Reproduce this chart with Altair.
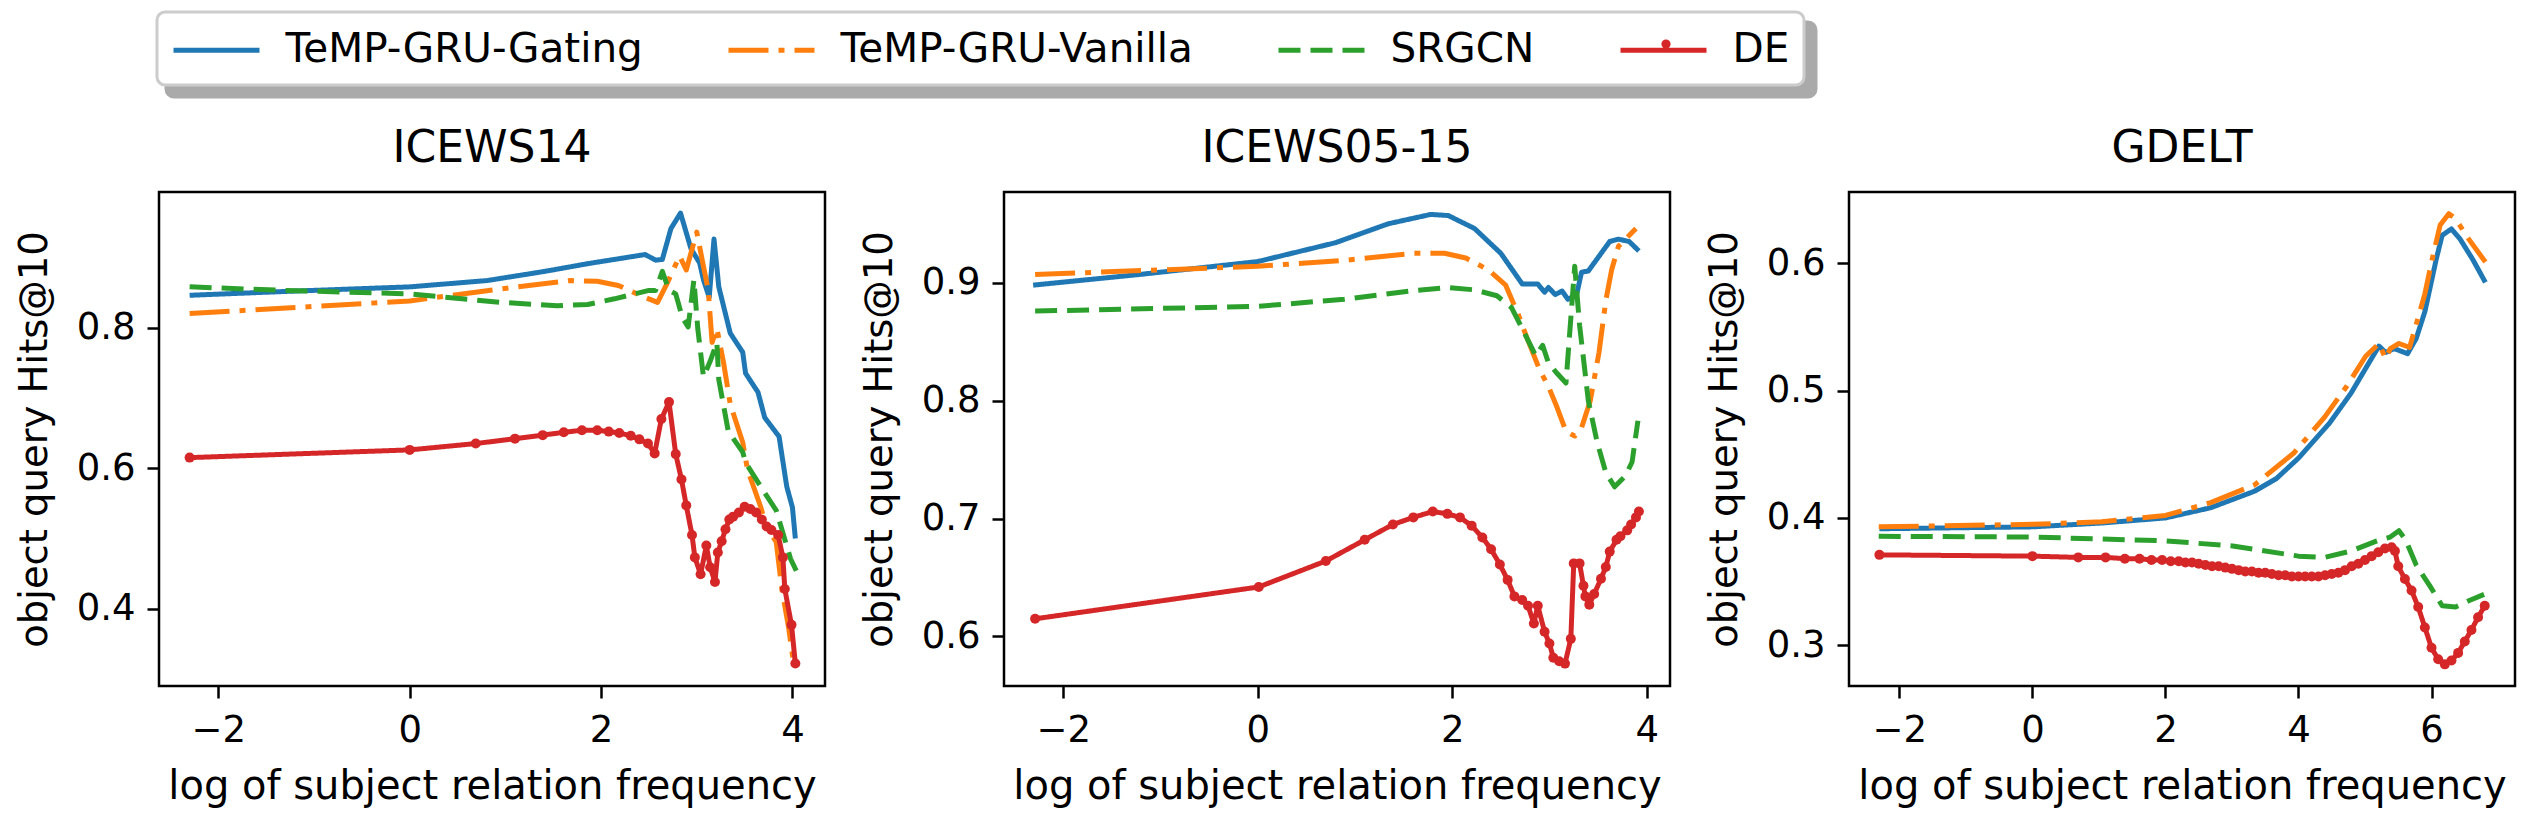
import altair as alt
import pandas as pd

SERIES = ["TeMP-GRU-Gating", "TeMP-GRU-Vanilla", "SRGCN", "DE"]
COLORS = ["#1f77b4", "#ff7f0e", "#2ca02c", "#d62728"]
DASHES = [[1, 0], [40, 10, 6, 10], [22, 10], [1, 0]]

TITLES = ["ICEWS14", "ICEWS05-15", "GDELT"]
XTITLE = "log of subject relation frequency"
YTITLE = "object query Hits@10"

# ---------------- ICEWS14 ----------------
I14_GATING_X = [-2.30, -1.20, 0.00, 0.81, 1.41, 1.86, 2.46, 2.57, 2.64, 2.73, 2.83, 2.94, 3.03, 3.07, 3.13, 3.18, 3.23, 3.35, 3.48, 3.51, 3.64, 3.71, 3.86, 3.94, 4.00, 4.03]
I14_GATING_Y = [0.846, 0.852, 0.858, 0.867, 0.880, 0.891, 0.904, 0.896, 0.897, 0.941, 0.963, 0.912, 0.892, 0.868, 0.843, 0.926, 0.858, 0.792, 0.765, 0.735, 0.708, 0.672, 0.645, 0.574, 0.544, 0.500]
I14_VANILLA_X = [-2.30, 0.00, 0.95, 1.68, 1.96, 2.18, 2.46, 2.59, 2.69, 2.82, 2.89, 3.00, 3.07, 3.12, 3.16, 3.21, 3.28, 3.35, 3.48, 3.53, 3.67, 3.73, 3.83, 3.89, 3.96, 4.01]
I14_VANILLA_Y = [0.820, 0.838, 0.855, 0.867, 0.866, 0.860, 0.843, 0.836, 0.863, 0.902, 0.882, 0.936, 0.887, 0.853, 0.779, 0.799, 0.750, 0.691, 0.637, 0.598, 0.544, 0.515, 0.495, 0.427, 0.373, 0.324]
I14_SRGCN_X = [-2.30, -1.33, 0.00, 0.95, 1.54, 1.86, 2.14, 2.50, 2.57, 2.64, 2.71, 2.78, 2.85, 2.91, 2.97, 3.01, 3.07, 3.14, 3.21, 3.23, 3.33, 3.48, 3.51, 3.69, 3.83, 3.98, 4.04]
I14_SRGCN_Y = [0.858, 0.853, 0.848, 0.836, 0.831, 0.833, 0.841, 0.853, 0.853, 0.880, 0.853, 0.848, 0.814, 0.801, 0.868, 0.799, 0.730, 0.752, 0.779, 0.726, 0.652, 0.623, 0.608, 0.569, 0.540, 0.471, 0.454]
I14_DE_X = [-2.30, 0.00, 0.69, 1.10, 1.39, 1.61, 1.80, 1.96, 2.08, 2.19, 2.31, 2.40, 2.49, 2.56, 2.63, 2.71, 2.78, 2.84, 2.89, 2.95, 2.98, 3.04, 3.10, 3.14, 3.19, 3.22, 3.26, 3.30, 3.34, 3.38, 3.44, 3.50, 3.56, 3.62, 3.68, 3.73, 3.78, 3.85, 3.90, 3.92, 3.99, 4.03]
I14_DE_Y = [0.615, 0.626, 0.635, 0.642, 0.647, 0.651, 0.654, 0.654, 0.652, 0.650, 0.646, 0.641, 0.635, 0.621, 0.670, 0.694, 0.620, 0.584, 0.547, 0.505, 0.473, 0.449, 0.490, 0.459, 0.438, 0.480, 0.496, 0.513, 0.527, 0.531, 0.537, 0.545, 0.542, 0.537, 0.527, 0.517, 0.512, 0.505, 0.473, 0.428, 0.377, 0.322]

# ---------------- ICEWS05-15 ----------------
I0515_GATING_X = [-2.31, -1.22, 0.00, 0.80, 1.34, 1.78, 1.96, 2.23, 2.50, 2.72, 2.88, 2.95, 2.99, 3.06, 3.13, 3.19, 3.28, 3.33, 3.40, 3.62, 3.71, 3.82, 3.92]
I0515_GATING_Y = [0.898, 0.907, 0.918, 0.934, 0.950, 0.958, 0.957, 0.946, 0.925, 0.899, 0.899, 0.892, 0.896, 0.890, 0.893, 0.886, 0.890, 0.909, 0.910, 0.935, 0.937, 0.935, 0.927]
I0515_VANILLA_X = [-2.29, 0.00, 0.89, 1.60, 1.92, 2.14, 2.37, 2.55, 2.68, 2.77, 2.90, 2.99, 3.08, 3.17, 3.26, 3.33, 3.42, 3.51, 3.58, 3.64, 3.71, 3.89]
I0515_VANILLA_Y = [0.907, 0.914, 0.919, 0.925, 0.925, 0.921, 0.911, 0.898, 0.873, 0.853, 0.826, 0.812, 0.794, 0.774, 0.770, 0.777, 0.800, 0.841, 0.885, 0.911, 0.931, 0.946]
I0515_SRGCN_X = [-2.29, 0.00, 0.89, 1.56, 1.96, 2.23, 2.46, 2.61, 2.72, 2.86, 2.93, 2.99, 3.08, 3.17, 3.26, 3.31, 3.40, 3.49, 3.58, 3.67, 3.78, 3.85, 3.91]
I0515_SRGCN_Y = [0.876, 0.880, 0.886, 0.893, 0.896, 0.894, 0.889, 0.879, 0.861, 0.838, 0.847, 0.832, 0.823, 0.815, 0.914, 0.864, 0.800, 0.765, 0.739, 0.727, 0.736, 0.748, 0.783]
I0515_DE_X = [-2.29, 0.01, 0.70, 1.10, 1.39, 1.60, 1.80, 1.95, 2.08, 2.20, 2.31, 2.40, 2.49, 2.57, 2.64, 2.72, 2.78, 2.84, 2.88, 2.95, 3.00, 3.04, 3.10, 3.16, 3.22, 3.25, 3.31, 3.35, 3.37, 3.41, 3.46, 3.53, 3.58, 3.62, 3.69, 3.73, 3.80, 3.84, 3.89, 3.92]
I0515_DE_Y = [0.615, 0.642, 0.664, 0.682, 0.695, 0.701, 0.706, 0.704, 0.701, 0.694, 0.684, 0.674, 0.661, 0.648, 0.634, 0.631, 0.626, 0.611, 0.626, 0.604, 0.594, 0.582, 0.579, 0.577, 0.598, 0.662, 0.662, 0.643, 0.634, 0.627, 0.636, 0.649, 0.659, 0.672, 0.682, 0.685, 0.690, 0.695, 0.701, 0.706]

# ---------------- GDELT ----------------
GD_GATING_X = [-2.30, 0.00, 1.04, 2.00, 2.68, 3.34, 3.67, 4.00, 4.46, 4.79, 5.05, 5.21, 5.31, 5.44, 5.64, 5.77, 5.90, 6.07, 6.16, 6.30, 6.43, 6.62, 6.81]
GD_GATING_Y = [0.3915, 0.393, 0.396, 0.400, 0.408, 0.421, 0.431, 0.447, 0.474, 0.498, 0.521, 0.535, 0.530, 0.533, 0.529, 0.541, 0.562, 0.603, 0.622, 0.627, 0.619, 0.603, 0.585]
GD_VANILLA_X = [-2.31, 0.00, 1.04, 2.00, 2.68, 3.34, 3.93, 4.39, 4.72, 5.01, 5.21, 5.31, 5.38, 5.51, 5.67, 5.77, 5.90, 6.03, 6.13, 6.26, 6.36, 6.56, 6.81]
GD_VANILLA_Y = [0.393, 0.395, 0.397, 0.402, 0.412, 0.426, 0.451, 0.479, 0.503, 0.527, 0.537, 0.525, 0.533, 0.537, 0.534, 0.552, 0.576, 0.608, 0.630, 0.639, 0.635, 0.619, 0.601]
GD_SRGCN_X = [-2.31, 0.00, 2.00, 3.01, 4.00, 4.39, 4.79, 5.18, 5.38, 5.51, 5.61, 5.77, 5.97, 6.16, 6.36, 6.56, 6.79]
GD_SRGCN_Y = [0.3856, 0.385, 0.382, 0.378, 0.370, 0.369, 0.374, 0.382, 0.385, 0.390, 0.383, 0.363, 0.347, 0.331, 0.330, 0.335, 0.340]
GD_DE_X = [-2.30, 0.00, 0.69, 1.10, 1.39, 1.61, 1.79, 1.95, 2.08, 2.20, 2.30, 2.40, 2.50, 2.60, 2.70, 2.80, 2.90, 3.00, 3.10, 3.20, 3.30, 3.40, 3.50, 3.60, 3.70, 3.80, 3.90, 4.00, 4.10, 4.20, 4.30, 4.40, 4.50, 4.60, 4.70, 4.80, 4.90, 5.00, 5.10, 5.20, 5.30, 5.40, 5.45, 5.50, 5.60, 5.70, 5.80, 5.90, 6.00, 6.10, 6.20, 6.30, 6.40, 6.50, 6.60, 6.70, 6.80]
GD_DE_Y = [0.371, 0.370, 0.369, 0.369, 0.368, 0.368, 0.367, 0.367, 0.366, 0.366, 0.365, 0.365, 0.364, 0.363, 0.362, 0.362, 0.361, 0.360, 0.359, 0.358, 0.358, 0.357, 0.357, 0.356, 0.355, 0.355, 0.354, 0.354, 0.354, 0.354, 0.354, 0.355, 0.356, 0.357, 0.359, 0.362, 0.364, 0.367, 0.370, 0.373, 0.376, 0.377, 0.374, 0.362, 0.352, 0.343, 0.330, 0.314, 0.298, 0.289, 0.285, 0.288, 0.294, 0.303, 0.312, 0.322, 0.331]

DATA = {
    "ICEWS14": [(I14_GATING_X, I14_GATING_Y), (I14_VANILLA_X, I14_VANILLA_Y), (I14_SRGCN_X, I14_SRGCN_Y), (I14_DE_X, I14_DE_Y)],
    "ICEWS05-15": [(I0515_GATING_X, I0515_GATING_Y), (I0515_VANILLA_X, I0515_VANILLA_Y), (I0515_SRGCN_X, I0515_SRGCN_Y), (I0515_DE_X, I0515_DE_Y)],
    "GDELT": [(GD_GATING_X, GD_GATING_Y), (GD_VANILLA_X, GD_VANILLA_Y), (GD_SRGCN_X, GD_SRGCN_Y), (GD_DE_X, GD_DE_Y)],
}

X_DOMAINS = {"ICEWS14": [-2.62, 4.34], "ICEWS05-15": [-2.61, 4.24], "GDELT": [-2.757, 7.255]}
Y_DOMAINS = {"ICEWS14": [0.290, 0.993], "ICEWS05-15": [0.558, 0.977], "GDELT": [0.268, 0.656]}
X_TICKS = {"ICEWS14": [-2, 0, 2, 4], "ICEWS05-15": [-2, 0, 2, 4], "GDELT": [-2, 0, 2, 4, 6]}
Y_TICKS = {"ICEWS14": [0.4, 0.6, 0.8], "ICEWS05-15": [0.6, 0.7, 0.8, 0.9], "GDELT": [0.3, 0.4, 0.5, 0.6]}

rows = []
for ds, series_list in DATA.items():
    for name, (xs, ys) in zip(SERIES, series_list):
        for i, (xv, yv) in enumerate(zip(xs, ys)):
            rows.append({"dataset": ds, "series": name, "shadow": name, "x": xv, "y": yv, "idx": i})
df = pd.DataFrame(rows)

FONT = "DejaVu Sans"
LEG_X, LEG_Y = -2, -180
LW = 5

main_legend = alt.Legend(
    title=None, orient="none", direction="horizontal", legendX=LEG_X, legendY=LEG_Y,
    symbolType="M-2,0L2,0", symbolSize=1849, symbolOffset=21.5, symbolStrokeWidth=LW,
    labelFont=FONT, labelFontSize=40.5, labelLimit=1000, labelOffset=45, labelColor="black",
    columnPadding=75, padding=14, cornerRadius=8,
    fillColor="white", strokeColor="#cccccc", zindex=2,
)
# single-entry legend used only as the drop shadow box behind the main legend
shadow_legend = alt.Legend(
    title=None, orient="none", direction="horizontal", legendX=LEG_X + 9, legendY=LEG_Y + 10,
    symbolType="square", symbolSize=1849, symbolOpacity=0,
    labelFontSize=1, labelOpacity=0, labelOffset=1575, labelLimit=1000,
    padding=14, cornerRadius=8,
    fillColor="#aaaaaa", strokeColor="#aaaaaa", zindex=1,
)
dot_legend = alt.Legend(
    title=None, orient="none", direction="horizontal", legendX=1502, legendY=-153,
    symbolType="circle", symbolSize=85, symbolFillColor="#d62728", symbolStrokeColor="#d62728",
    symbolStrokeWidth=0, symbolOpacity=1, labelOpacity=0, labelFontSize=1, labelOffset=0,
    padding=0, zindex=3,
)

color_scale = alt.Scale(domain=SERIES, range=COLORS)
dash_scale = alt.Scale(domain=SERIES, range=DASHES)


def panel(ds, first):
    d = df[df["dataset"] == ds]
    base = alt.Chart(d)
    x = alt.X("x:Q", scale=alt.Scale(domain=X_DOMAINS[ds], nice=False, zero=False),
              axis=alt.Axis(values=X_TICKS[ds], format="d", title=XTITLE))
    y = alt.Y("y:Q", scale=alt.Scale(domain=Y_DOMAINS[ds], nice=False, zero=False),
              axis=alt.Axis(values=Y_TICKS[ds], format=".1f", title=YTITLE))
    layers = []
    for s in SERIES:
        layers.append(
            base.transform_filter(alt.datum.series == s)
            .mark_line(strokeWidth=LW, strokeJoin="round", strokeCap="butt")
            .encode(
                x=x, y=y,
                color=alt.Color("series:N", scale=color_scale, legend=main_legend),
                strokeDash=alt.StrokeDash("series:N", scale=dash_scale, legend=main_legend),
                order="idx:Q",
            )
        )
    de = base.transform_filter(alt.datum.series == "DE")
    pts_enc = dict(x=x, y=y)
    if first:
        pts_enc["shape"] = alt.Shape("series:N", scale=alt.Scale(range=["circle"]), legend=dot_legend)
    layers.append(
        de.mark_point(size=100, opacity=1, filled=True, color="#d62728", shape="circle")
        .encode(**pts_enc)
    )
    if first:
        layers.append(
            de.mark_point(strokeOpacity=0, fillOpacity=0)
            .encode(
                x=x, y=y,
                opacity=alt.Opacity("shadow:N", scale=alt.Scale(domain=["DE"], range=[0]), legend=shadow_legend),
            )
        )
    return alt.layer(*layers).properties(
        width=666, height=494, title=alt.TitleParams(ds)
    )


chart = (
    alt.hconcat(*[panel(ds, i == 0) for i, ds in enumerate(TITLES)], spacing=31)
    .properties(padding={"left": 5, "top": 2, "right": 0, "bottom": 0})
    .configure_view(stroke="black", strokeWidth=2.5)
    .configure_axis(
        grid=False, domain=False, tickColor="black", tickWidth=2.5, tickSize=12,
        labelFont=FONT, labelFontSize=37, labelColor="black",
        titleFont=FONT, titleFontWeight="normal", titleColor="black",
    )
    .configure_axisX(labelPadding=14, titlePadding=18, titleFontSize=40)
    .configure_axisY(labelPadding=12, titlePadding=22, titleFontSize=38.5)
    .configure_title(font=FONT, fontSize=44, fontWeight="normal", color="black", offset=21)
    .configure_legend(strokeWidth=3)
)

chart.save("out.html", embed_options={"renderer": "svg", "actions": False})
